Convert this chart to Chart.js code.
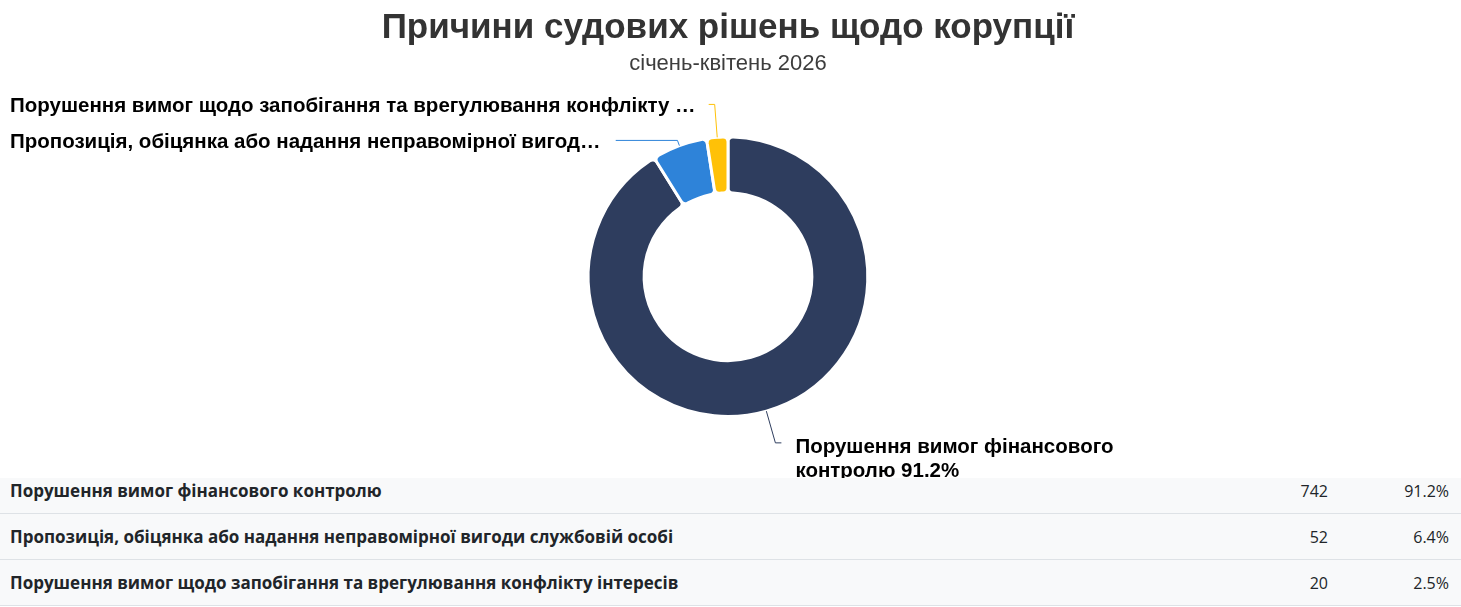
<!DOCTYPE html>
<html lang="uk">
<head>
<meta charset="utf-8">
<title>Причини судових рішень щодо корупції</title>
<script src="https://cdn.jsdelivr.net/npm/chart.js@4.4.1/dist/chart.umd.min.js"></script>
<style>
  html, body { margin: 0; padding: 0; background: #fff; }
  body { width: 1461px; overflow: hidden; }
  .chart-box { position: relative; z-index: 1; height: 478px; background: #fff; }
  table { position: relative; z-index: 0; margin-top: -10px; width: 100%; border-collapse: collapse;
          table-layout: fixed; font-family: "Open Sans", "Noto Sans", sans-serif; font-size: 16px; color: #212529; }
  td { height: 45px; padding: 0 12px 0 10px; background: #f8f9fa; border-bottom: 1px solid #dee2e6; white-space: nowrap; }
  td.name { font-weight: bold; font-size: 17px; }
  td.num { width: 100px; text-align: right; padding-left: 0; }
  td.pct { width: 109px; text-align: right; padding-left: 0; }
</style>
</head>
<body>
<div class="chart-box"><canvas id="reasonsChart"></canvas></div>
<table><tbody id="reasonsTable"></tbody></table>
<script>
const categories = [
    'Порушення вимог фінансового контролю',
    'Пропозиція, обіцянка або надання неправомірної вигоди службовій особі',
    'Порушення вимог щодо запобігання та врегулювання конфлікту інтересів'
];
const counts = [742, 52, 20];
const shares = [91.2, 6.4, 2.5];
const colors = ['#2E3D5E', '#2E83D9', '#FFC107'];

const labelFont = 'bold 20.5px "Liberation Sans", Arial, sans-serif';

// обрізає текст з трьома крапками
function fitText(ctx, text, maxW) {
    if (ctx.measureText(text).width <= maxW) return text;
    let n = text.length;
    while (n > 0 && ctx.measureText(text.slice(0, n) + '…').width > maxW) n--;
    return text.slice(0, n) + '…';
}

function wrapText(ctx, text, maxW) {
    const words = text.split(' ');
    const lines = [];
    let line = '';
    words.forEach(w => {
        const test = line ? line + ' ' + w : w;
        if (line && ctx.measureText(test).width > maxW) {
            lines.push(line);
            line = w;
        } else {
            line = test;
        }
    });
    if (line) lines.push(line);
    return lines;
}

// підписи з виносками, як у Highcharts
const pieLabels = {
    id: 'pieLabels',
    afterDatasetsDraw(chart) {
        const ctx = chart.ctx;
        const meta = chart.getDatasetMeta(0);
        const items = meta.data.map((arc, i) => {
            const p = arc.getProps(['x', 'y', 'startAngle', 'endAngle', 'outerRadius'], true);
            const a = (p.startAngle + p.endAngle) / 2;
            const cos = Math.cos(a), sin = Math.sin(a);
            const ax = p.x + cos * p.outerRadius;
            const ay = p.y + sin * p.outerRadius;
            return { i, p, cos, sin, ax, ay, y: ay + sin * 33, left: cos < 0 };
        });

        [true, false].forEach(side => {
            const list = items.filter(o => o.left === side).sort((m, n) => m.y - n.y);
            for (let k = 1; k < list.length; k++) {
                if (list[k].y < list[k - 1].y + 36) list[k].y = list[k - 1].y + 36;
            }
        });

        ctx.save();
        ctx.font = labelFont;
        ctx.textBaseline = 'middle';
        items.forEach(o => {
            const { p } = o;
            let t = Math.abs(o.sin) > 0.01 ? (o.y - o.ay) / o.sin : 33;
            t = Math.max(0, Math.min(33, t));
            const ex = o.ax + o.cos * t;
            const ringR = p.outerRadius + 30;
            const dy = o.y - p.y;
            const inside = Math.abs(dy) < ringR;
            const off = inside ? Math.sqrt(ringR * ringR - dy * dy) : 0;
            const text = categories[o.i] + ' ' + shares[o.i] + '%';
            let endX;

            ctx.fillStyle = '#000';
            ctx.textAlign = 'left';
            if (o.left) {
                const rx = p.x - off;
                endX = Math.min(ex - 6, rx - 11);
                const textRight = inside ? rx - 18 : rx - 30;
                ctx.fillText(fitText(ctx, text, textRight - 10), 10, o.y + 2);
            } else {
                const rx = p.x + off;
                endX = Math.max(ex + 6, rx + 11);
                const tx = endX + 14;
                const lines = wrapText(ctx, text, Math.min(330, chart.width - tx - 10));
                lines.forEach((ln, k) => ctx.fillText(ln, tx, o.y + 4 + k * 24));
            }

            ctx.strokeStyle = colors[o.i];
            ctx.lineWidth = 1;
            ctx.beginPath();
            ctx.moveTo(endX, o.y);
            ctx.lineTo(ex, o.y);
            ctx.lineTo(o.ax, o.ay);
            ctx.stroke();
        });
        ctx.restore();
    }
};

new Chart(document.getElementById('reasonsChart'), {
    type: 'doughnut',
    data: {
        labels: categories,
        datasets: [{
            data: counts,
            backgroundColor: colors,
            borderColor: '#ffffff',
            borderWidth: 3,
            borderRadius: 5
        }]
    },
    options: {
        responsive: true,
        maintainAspectRatio: false,
        animation: false,
        cutout: '60%',
        layout: { padding: { left: 0, right: 5, top: 0, bottom: 60 } },
        plugins: {
            legend: { display: false },
            tooltip: { enabled: false },
            title: {
                display: true,
                text: 'Причини судових рішень щодо корупції',
                color: '#333333',
                font: { family: '"Liberation Sans", Arial, sans-serif', size: 35, weight: 'bold' },
                padding: { top: 7, bottom: 0 }
            },
            subtitle: {
                display: true,
                text: 'січень-квітень 2026',
                color: '#3d3d3d',
                font: { family: '"Liberation Sans", Arial, sans-serif', size: 22 },
                padding: { top: 2, bottom: 58 }
            }
        }
    },
    plugins: [pieLabels]
});

// таблиця під графіком
const tbody = document.getElementById('reasonsTable');
categories.forEach((name, i) => {
    const tr = document.createElement('tr');
    tr.innerHTML = `<td class="name">${name}</td><td class="num">${counts[i]}</td><td class="pct">${shares[i]}%</td>`;
    tbody.appendChild(tr);
});
</script>
</body>
</html>
